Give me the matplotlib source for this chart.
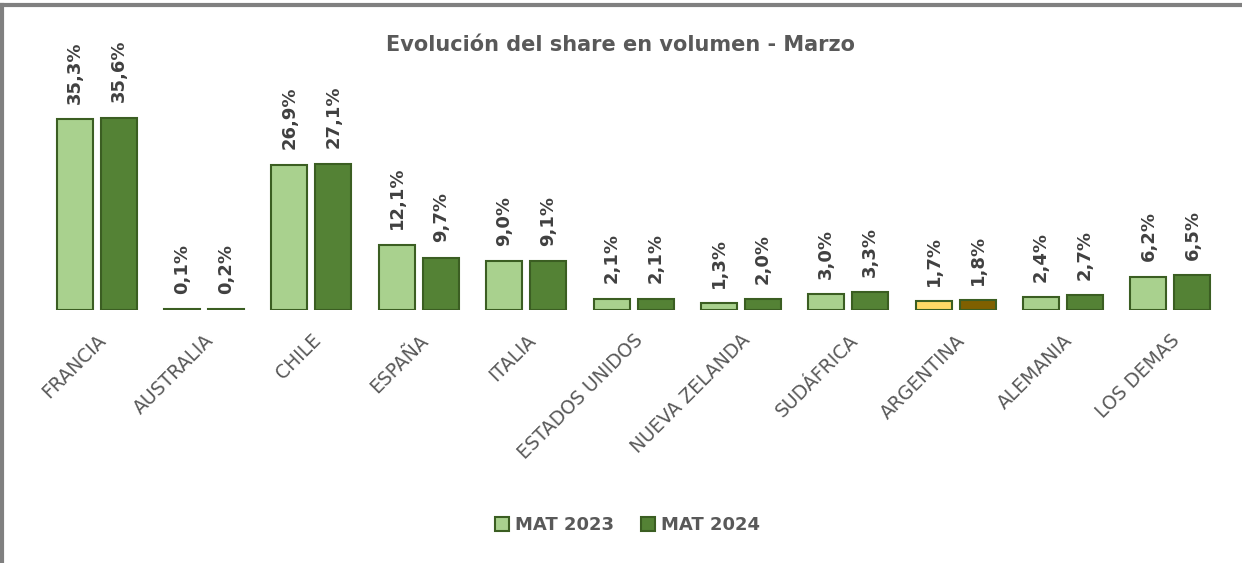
import matplotlib.pyplot as plt
from matplotlib.patches import Patch
import numpy as np

plt.rcParams['font.family'] = ['DejaVu Sans']

paises = ['FRANCIA', 'AUSTRALIA', 'CHILE', 'ESPAÑA', 'ITALIA', 'ESTADOS UNIDOS',
          'NUEVA ZELANDA', 'SUDÁFRICA', 'ARGENTINA', 'ALEMANIA', 'LOS DEMAS']
mat_2023 = [35.3, 0.1, 26.9, 12.1, 9.0, 2.1, 1.3, 3.0, 1.7, 2.4, 6.2]
mat_2024 = [35.6, 0.2, 27.1, 9.7, 9.1, 2.1, 2.0, 3.3, 1.8, 2.7, 6.5]

verde_claro = '#A9D18E'
verde_oscuro = '#548235'
borde = '#3B5E22'
gris = '#595959'

# Argentina se destaca con otros colores
col_2023 = [verde_claro] * len(paises)
col_2024 = [verde_oscuro] * len(paises)
col_2023[paises.index('ARGENTINA')] = '#FFD966'
col_2024[paises.index('ARGENTINA')] = '#7F6000'

fig = plt.figure(figsize=(12.42, 5.63), dpi=100)
ax = fig.add_axes([0.0346, 0.4494, 0.951, 0.3837])

x = np.arange(len(paises))
w = 0.335
off = 0.205
b1 = ax.bar(x - off, mat_2023, w, color=col_2023, edgecolor=borde, linewidth=1.5)
b2 = ax.bar(x + off, mat_2024, w, color=col_2024, edgecolor=borde, linewidth=1.5)

# etiquetas verticales con el valor de cada barra
for barras, vals in ((b1, mat_2023), (b2, mat_2024)):
    for b, v in zip(barras, vals):
        ax.annotate(f'{v:.1f}%'.replace('.', ','),
                    (b.get_x() + b.get_width() / 2, v),
                    xytext=(0, 11), textcoords='offset points',
                    rotation=90, ha='center', va='bottom',
                    fontsize=13, fontweight='bold', color='#404040')

ax.set_xlim(-0.5, len(paises) - 0.5)
ax.set_ylim(0, 40)
ax.set_xticks(x)
ax.set_xticklabels(paises, rotation=45, ha='right', rotation_mode='anchor',
                   fontsize=13.5, color=gris)
ax.tick_params(axis='x', length=0, pad=15)
ax.set_yticks([])
for s in ax.spines.values():
    s.set_visible(False)

fig.text(0.5, 0.92, 'Evolución del share en volumen - Marzo', ha='center', va='center',
         fontsize=15, fontweight='bold', color=gris)

handles = [Patch(facecolor=verde_claro, edgecolor=borde, linewidth=1.5, label='MAT 2023'),
           Patch(facecolor=verde_oscuro, edgecolor=borde, linewidth=1.5, label='MAT 2024')]
fig.legend(handles=handles, loc='center', bbox_to_anchor=(0.505, 0.067), ncol=2, frameon=False,
           handlelength=0.8, handleheight=0.8, handletextpad=0.3, columnspacing=1.5,
           prop={'size': 13, 'weight': 'bold'}, labelcolor=gris)

# marco gris superior e izquierdo
fig.add_artist(plt.Line2D([0, 1], [0.991, 0.991], transform=fig.transFigure, color='#808080', lw=3))
fig.add_artist(plt.Line2D([0.002, 0.002], [0, 0.991], transform=fig.transFigure, color='#808080', lw=3))

fig.savefig('out.png', dpi=100, facecolor='white')
